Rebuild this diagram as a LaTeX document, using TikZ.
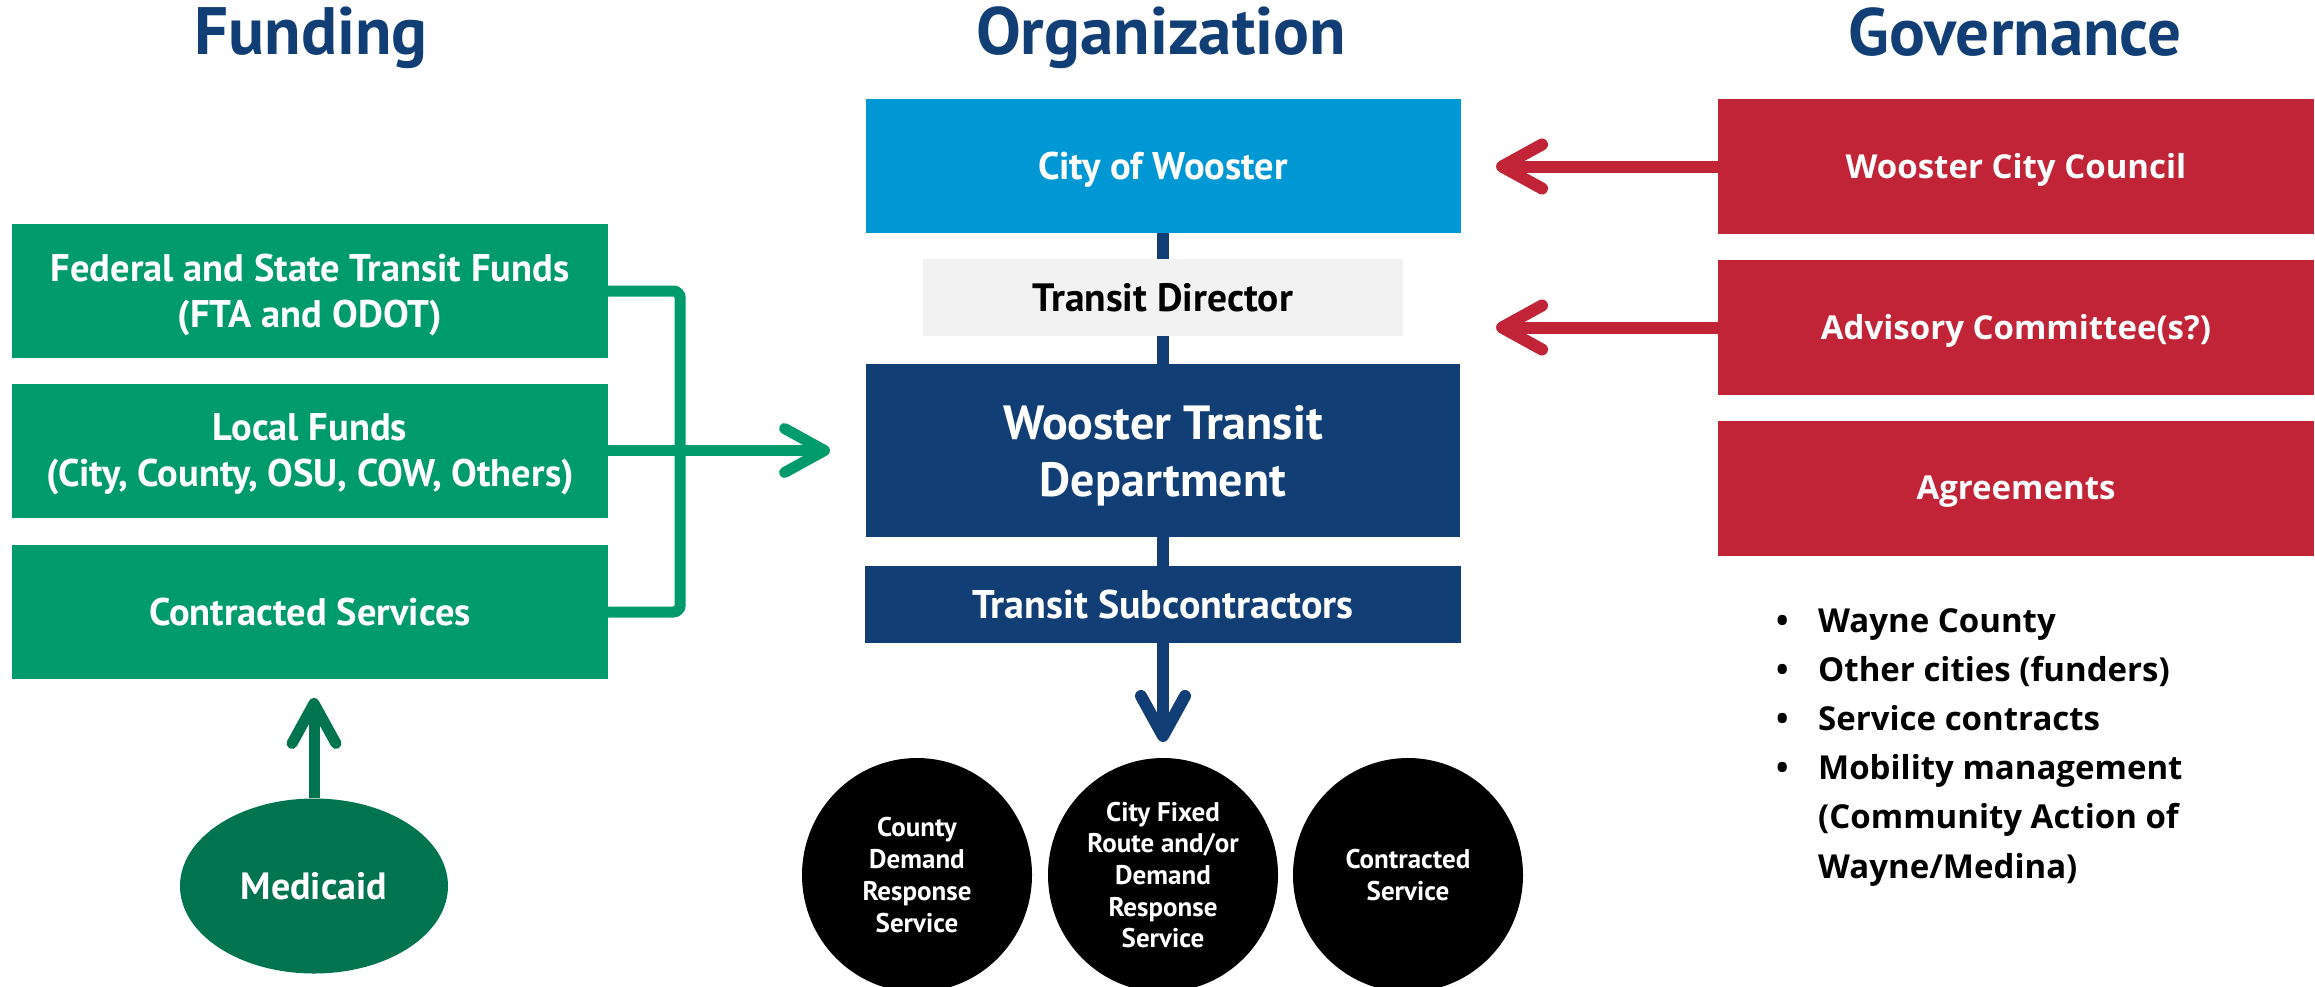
\documentclass[tikz,border=0pt]{standalone}
\usepackage{fontspec}
\setmainfont{PT Sans}
\newfontfamily\govfont{Open Sans}
\usetikzlibrary{arrows.meta,shapes.geometric}
\definecolor{navy}{RGB}{17,63,117}
\definecolor{lblue}{RGB}{0,152,212}
\definecolor{fgreen}{RGB}{0,155,106}
\definecolor{dgreen}{RGB}{0,116,79}
\definecolor{gred}{RGB}{192,36,54}
\definecolor{lgray}{RGB}{242,242,242}
\begin{document}
\begin{tikzpicture}[x=1pt,y=-1pt,
  title/.style={anchor=base, inner sep=0pt, text=navy, font=\bfseries\fontsize{67}{72}\selectfont},
  gbox/.style={rectangle, fill=fgreen, text=white, inner sep=0pt, align=center,
    minimum width=596pt, minimum height=134pt, font=\bfseries\fontsize{38.5}{46}\selectfont},
  obox/.style={rectangle, text=white, inner sep=0pt, align=center, font=\bfseries\fontsize{38.5}{46}\selectfont},
  oneline/.style={text height=#1, text depth=0pt},
  rbox/.style={rectangle, fill=gred, text=white, inner sep=0pt, align=center, oneline=23.6pt,
    minimum width=596pt, minimum height=135pt, font=\govfont\bfseries\fontsize{33}{40}\selectfont},
  bell/.style={ellipse, fill=black, text=white, inner sep=0pt, align=center,
    minimum width=230pt, minimum height=234pt, font=\bfseries\fontsize{27}{31.7}\selectfont},
  gline/.style={draw=fgreen, line width=11pt},
  nline/.style={draw=navy, line width=12pt},
  rline/.style={draw=gred, line width=12pt},
  dline/.style={draw=dgreen, line width=11pt},
  barb/.style={-{Straight Barb[length=40pt, width=44pt, round]}}
]
\useasboundingbox (0,0) rectangle (2315,986);

% titles
\node[title] (tf) at (311,54) {Funding};
\node[title] (to) at (1161,54) {Organization};
\node[title] (tg) at (2015,55) {Governance};

% funding
\node[gbox, text depth=0pt] (f1) at (310,291) {Federal and State Transit Funds\\(FTA and ODOT)};
\node[gbox, text depth=0pt] (f2) at (310,450.5) {Local Funds\\(City, County, OSU, COW, Others)};
\node[gbox, oneline=27pt] (f3) at (310,612) {Contracted Services};
\node[ellipse, fill=dgreen, text=white, inner sep=0pt, minimum width=268pt, minimum height=175pt, oneline=26.6pt,
  font=\bfseries\fontsize{38}{40}\selectfont] (med) at (314,886) {Medicaid};

% organization
\node[obox, oneline=27pt, fill=lblue, minimum width=595pt, minimum height=134pt] (city) at (1163,166) {City of Wooster};
\node[obox, oneline=27.6pt, fill=lgray, text=black, minimum width=480pt, minimum height=77pt, font=\bfseries\fontsize{39.5}{46}\selectfont] (dir) at (1163,297.5) {Transit Director};
\node[obox, text depth=0pt, fill=navy, minimum width=594pt, minimum height=173pt, font=\bfseries\fontsize{48}{57}\selectfont] (wtd) at (1163,450.5) {Wooster Transit\\Department};
\node[obox, oneline=28pt, fill=navy, minimum width=596pt, minimum height=77pt, font=\bfseries\fontsize{40}{45}\selectfont] (sub) at (1163,604.5) {Transit Subcontractors};

\node[bell] (e1) at (917,875) {County\\Demand\\Response\\Service};
\node[bell] (e2) at (1163,875) {City Fixed\\Route and/or\\Demand\\Response\\Service};
\node[bell] (e3) at (1408,875) {Contracted\\Service};

% governance
\node[rbox] (r1) at (2016,166.5) {Wooster City Council};
\node[rbox] (r2) at (2016,327.5) {Advisory Committee(s?)};
\node[rbox] (r3) at (2016,488) {Agreements};

\node[anchor=north west, inner sep=0pt, text=black, font=\govfont\bfseries\fontsize{33}{49.2}\selectfont] (bul) at (1776,597.5)
{\begin{tabular}{@{}l@{}l@{}}
\makebox[42pt][l]{•} & Wayne County\\
\makebox[42pt][l]{•} & Other cities (funders)\\
\makebox[42pt][l]{•} & Service contracts\\
\makebox[42pt][l]{•} & Mobility management\\
 & (Community Action of\\
 & Wayne/Medina)
\end{tabular}};

% connectors
\coordinate (gtip) at (830,450.5);
\coordinate (dtip) at (1163,742);
\coordinate (mtip) at (314,698);
\coordinate (rtip1) at (1496,166.5);
\coordinate (rtip2) at (1496,327.5);

\draw[gline, rounded corners=7pt] (f1.east) -- ++(72,0) |- (f3.east);
\draw[gline, barb] (f2.east) -- (gtip);
\draw[nline] (city.south) -- (dir.north);
\draw[nline] (dir.south) -- (wtd.north);
\draw[nline] (wtd.south) -- (sub.north);
\draw[nline, barb] (sub.south) -- (dtip);
\draw[dline, barb] (med.north) -- (mtip);
\draw[rline, barb] (r1.west) -- (rtip1);
\draw[rline, barb] (r2.west) -- (rtip2);
\end{tikzpicture}
\end{document}
